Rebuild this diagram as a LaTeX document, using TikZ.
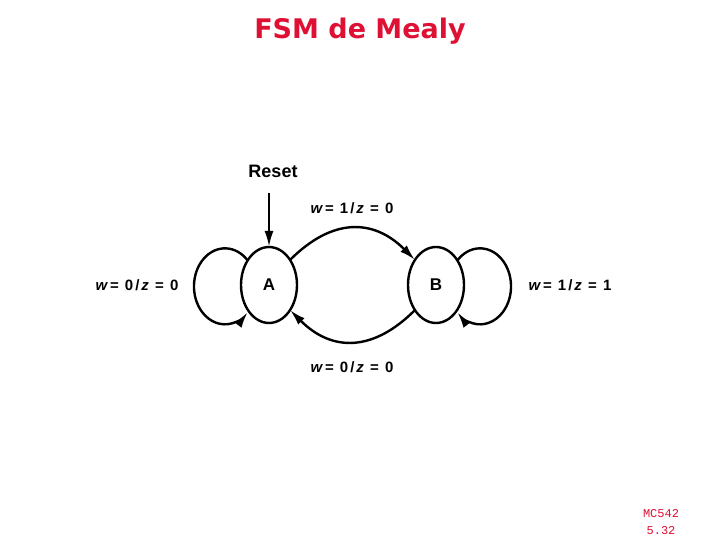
\documentclass[tikz,border=0pt]{standalone}
\usepackage{fontspec}
\setmainfont{Liberation Sans}
\newfontfamily\titlefont{DejaVu Sans}
\newfontfamily\monofont{Liberation Mono}
\usetikzlibrary{arrows.meta,shapes.geometric}
\definecolor{titlered}{RGB}{222,16,52}
\newcommand{\gp}{\hspace{2pt}}
\newcommand{\wz}[2]{\textit{w}\gp=\gp\ #1\gp/\gp\textit{z}\gp\ =\gp\ #2}
\tikzset{
  state/.style={draw, ellipse, line width=2.4pt, minimum width=56pt, minimum height=76pt, inner sep=0pt, outer sep=0pt, font=\fontsize{17}{20}\selectfont\bfseries},
  conn/.style={line width=2.4pt, -{Latex[length=16pt,width=9pt]}},
  lbl/.style={font=\fontsize{15}{18}\selectfont\bfseries, inner sep=0pt},
}
\begin{document}
\begin{tikzpicture}[x=1pt,y=-1pt]
\useasboundingbox (0,0) rectangle (720,540);
\node[font=\titlefont\fontsize{27}{32}\selectfont\bfseries, text=titlered] (title) at (360,31) {FSM de Mealy};
\node[state] (A) at (269,285) {A};
\node[state] (B) at (436,285) {B};
\node[font=\fontsize{18}{21}\selectfont\bfseries, inner sep=0pt] (reset) at (273,171) {Reset};
\coordinate (rs) at (269,193);
\draw[conn] (rs) -- (A.north);
\draw[conn] (A.50) .. controls (332,218) and (373,218) .. (B.130);
\draw[conn] (B.-130) .. controls (373,352) and (332,352) .. (A.-50);
\draw[conn] (A.131) arc[start angle=-43, end angle=-317, x radius=31, y radius=38];
\draw[conn] (B.49) arc[start angle=-137, end angle=137, x radius=31, y radius=38];
\node[lbl] (l1) at (352,208) {\wz{1}{0}};
\node[lbl] (l2) at (352,367) {\wz{0}{0}};
\node[lbl] (l3) at (137,285) {\wz{0}{0}};
\node[lbl] (l4) at (570,285) {\wz{1}{1}};
\node[font=\monofont\fontsize{12}{17}\selectfont, text=titlered, align=center, inner sep=0pt] (mc) at (661,522) {MC542\\5.32};
\end{tikzpicture}
\end{document}
